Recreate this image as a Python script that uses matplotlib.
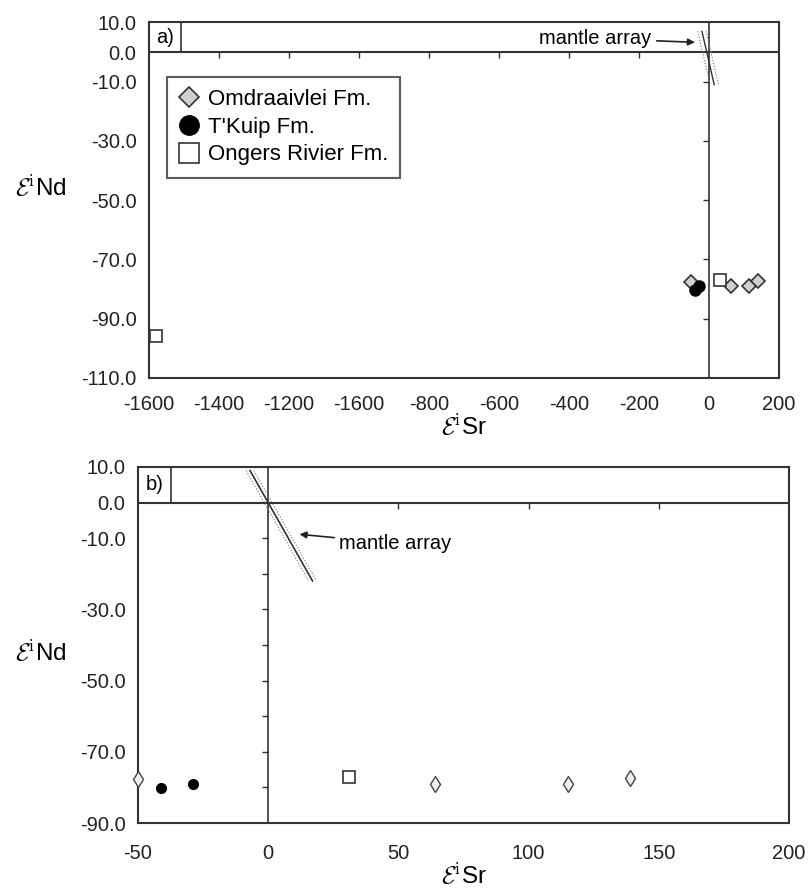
import matplotlib
matplotlib.use("Agg")
import matplotlib.pyplot as plt
import matplotlib.transforms as mtransforms
from matplotlib.patches import Rectangle
from matplotlib.lines import Line2D

plt.rcParams['font.family'] = ['Liberation Sans', 'DejaVu Sans']
plt.rcParams['mathtext.fontset'] = 'cm'

# ---------------- data ----------------
omd_sr = [-50, 64, 115, 139]
omd_nd = [-77.5, -79, -79, -77.3]
tkuip_sr = [-41, -29]
tkuip_nd = [-80.3, -79]
ongers_sr = [31, -1580]
ongers_nd = [-77, -96]

# mantle array (panel a and b)
mantle_a_sr = [-20, 15]
mantle_a_nd = [7, -11]
mantle_b_sr = [-7, 17]
mantle_b_nd = [9, -22]
mantle_offset = 1.5

xticks_a = [-1600, -1400, -1200, -1000, -800, -600, -400, -200, 0, 200]
xticklabels_a = ['-1600', '-1400', '-1200', '-1600', '-800', '-600', '-400', '-200', '0', '200']
yticks_a = [10, 0, -10, -30, -50, -70, -90, -110]
xticks_b = [-50, 0, 50, 100, 150, 200]
yticks_b = [10, 0, -10, -30, -50, -70, -90]

inner_xticks_a = [-1400, -1200, -1000, -800, -600, -400, -200]
inner_yticks_a = [-10, -30, -50, -70, -90]
inner_xticks_b = [50, 100, 150]
inner_yticks_b = [-10, -20, -30, -40, -50, -60, -70, -80]

DARK = '#333333'
FS = 14.5

fig = plt.figure(figsize=(8.11, 8.91), dpi=100)

def setup(pos, xlim, ylim, xt, xtl, yt, inner_xt, inner_yt, label, xpad):
    ax = fig.add_axes(pos)
    ax.set_xlim(*xlim)
    ax.set_ylim(*ylim)
    ax.set_xticks(xt)
    ax.set_xticklabels(xtl)
    ax.set_yticks(yt)
    ax.set_yticklabels(['%.1f' % v for v in yt])
    ax.tick_params(length=0, labelsize=FS, colors='#222222')
    ax.tick_params(axis='y', pad=9)
    ax.tick_params(axis='x', pad=xpad)
    for s in ax.spines.values():
        s.set_linewidth(1.5)
        s.set_color(DARK)
    ax.axhline(0, color=DARK, lw=1.5, zorder=1)
    ax.axvline(0, color=DARK, lw=1.2, zorder=1)
    # inner ticks along zero lines
    ax2 = fig.add_axes(pos)
    ax2.set_xlim(*xlim)
    ax2.set_ylim(*ylim)
    ax2.patch.set_visible(False)
    for k in ['top', 'right', 'left', 'bottom']:
        ax2.spines[k].set_visible(False)
    ax2.spines['left'].set_position(('data', 0))
    ax2.spines['bottom'].set_position(('data', 0))
    ax2.set_xticks(inner_xt)
    ax2.set_yticks(inner_yt)
    ax2.tick_params(direction='out', length=4, width=1, colors=DARK,
                    labelbottom=False, labelleft=False)
    # label box
    trans = mtransforms.blended_transform_factory(ax.transAxes, ax.transData)
    ax.add_patch(Rectangle((0, 0), 0.051, ylim[1], transform=trans, fill=False,
                           ec=DARK, lw=1.2, zorder=2))
    ax.text(0.025, ylim[1] / 2, label, transform=trans, ha='center', va='center',
            fontsize=14.5)
    ax.set_xlabel(r'$\mathcal{E}^{\mathrm{i}}$Sr', fontsize=17.5, labelpad=0)
    ax.set_ylabel(r'$\mathcal{E}^{\mathrm{i}}$Nd', fontsize=17.5, rotation=0,
                  va='center')
    return ax

# ---------------- panel a ----------------
axa = setup([0.1837, 0.5758, 0.7768, 0.399], (-1600, 200), (-110, 10),
            xticks_a, xticklabels_a, yticks_a, inner_xticks_a, inner_yticks_a, 'a)', 12)
axa.yaxis.set_label_coords(-0.171, 0.535)

axa.plot(mantle_a_sr, mantle_a_nd, color=DARK, lw=1, zorder=3)
axa.plot([v - 12 for v in mantle_a_sr], mantle_a_nd, color='#777777', lw=0.8, ls=':', zorder=3)
axa.plot([v + 12 for v in mantle_a_sr], mantle_a_nd, color='#777777', lw=0.8, ls=':', zorder=3)
axa.annotate('mantle array', xy=(-40, 3.3), xytext=(-165, 4.6), fontsize=FS,
             ha='right', va='center',
             arrowprops=dict(arrowstyle='-|>', color='#222222', lw=1.2,
                             mutation_scale=10, shrinkA=2, shrinkB=0))

axa.plot(omd_sr, omd_nd, ls='none', marker='D', ms=7, mfc='#d0d0d0', mec='#333333', mew=1.2,
         zorder=5, clip_on=False)
axa.plot(tkuip_sr, tkuip_nd, ls='none', marker='o', ms=8, mfc='black', mec='black',
         zorder=5, clip_on=False)
axa.plot(ongers_sr, ongers_nd, ls='none', marker='s', ms=8, mfc='white', mec='#333333', mew=1.2,
         zorder=5, clip_on=False)

handles = [
    Line2D([], [], ls='none', marker='D', ms=10, mfc='#d0d0d0', mec='#333333', mew=1.2),
    Line2D([], [], ls='none', marker='o', ms=14, mfc='black', mec='black'),
    Line2D([], [], ls='none', marker='s', ms=14, mfc='white', mec='#333333', mew=1.2),
]
leg = axa.legend(handles, ['Omdraaivlei Fm.', "T'Kuip Fm.", 'Ongers Rivier Fm.'],
                 loc='upper left', bbox_to_anchor=(0.028, 0.847), fontsize=16,
                 frameon=True, fancybox=False, edgecolor=DARK, handlelength=0.9,
                 handletextpad=0.4, borderpad=0.55, labelspacing=0.3, borderaxespad=0)
leg.get_frame().set_linewidth(1.5)

# ---------------- panel b ----------------
axb = setup([0.1702, 0.0763, 0.8027, 0.3996], (-50, 200), (-90, 10),
            xticks_b, [str(v) for v in xticks_b], yticks_b, inner_xticks_b, inner_yticks_b, 'b)', 15)
axb.yaxis.set_label_coords(-0.149, 0.478)

axb.plot(mantle_b_sr, mantle_b_nd, color=DARK, lw=1.2, zorder=3)
axb.plot([v - mantle_offset for v in mantle_b_sr], mantle_b_nd, color='#777777', lw=0.8, ls=':', zorder=3)
axb.plot([v + mantle_offset for v in mantle_b_sr], mantle_b_nd, color='#777777', lw=0.8, ls=':', zorder=3)
axb.annotate('mantle array', xy=(12, -8.9), xytext=(27, -11.5), fontsize=FS,
             ha='left', va='center',
             arrowprops=dict(arrowstyle='-|>', color='#222222', lw=1.2,
                             mutation_scale=10, shrinkA=1, shrinkB=0))

axb.plot(omd_sr, omd_nd, ls='none', marker='d', ms=8, mfc='#eeeeee', mec='#444444', mew=1.0,
         zorder=5, clip_on=False)
axb.plot(tkuip_sr, tkuip_nd, ls='none', marker='o', ms=7, mfc='black', mec='black',
         zorder=5, clip_on=False)
axb.plot(ongers_sr, ongers_nd, ls='none', marker='s', ms=8, mfc='white', mec='#333333', mew=1.2,
         zorder=5)

fig.savefig('out.png', dpi=100)
